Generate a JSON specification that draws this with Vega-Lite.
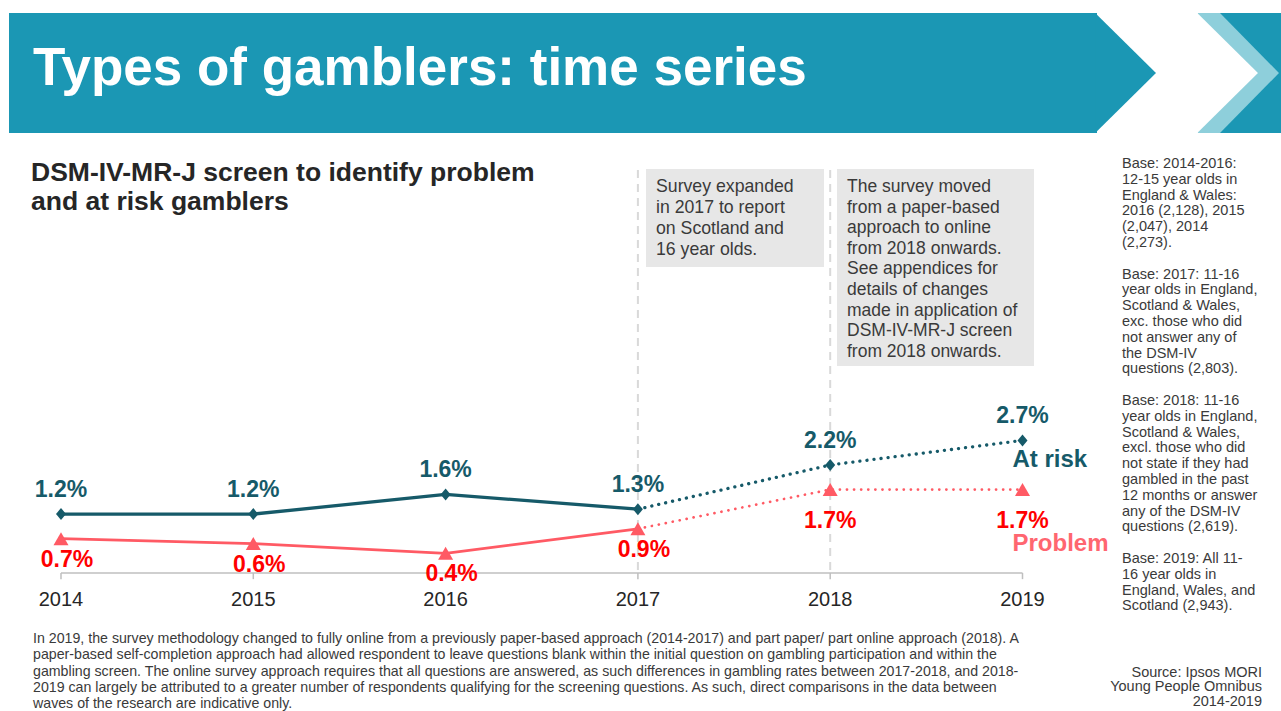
{
  "$schema": "https://vega.github.io/schema/vega-lite/v6.json",
  "width": 1281,
  "height": 711,
  "autosize": "none",
  "padding": 0,
  "background": "white",
  "config": {"font": "Liberation Sans", "view": {"stroke": null}},
  "datasets": {
    "gamblers": [
      {"year": 2014, "series": "At risk", "value": 0.012},
      {"year": 2015, "series": "At risk", "value": 0.012},
      {"year": 2016, "series": "At risk", "value": 0.016},
      {"year": 2017, "series": "At risk", "value": 0.013},
      {"year": 2018, "series": "At risk", "value": 0.022},
      {"year": 2019, "series": "At risk", "value": 0.027},
      {"year": 2014, "series": "Problem", "value": 0.007},
      {"year": 2015, "series": "Problem", "value": 0.006},
      {"year": 2016, "series": "Problem", "value": 0.004},
      {"year": 2017, "series": "Problem", "value": 0.009},
      {"year": 2018, "series": "Problem", "value": 0.017},
      {"year": 2019, "series": "Problem", "value": 0.017}
    ]
  },
  "layer": [
    {
      "data": {"values": [{}]},
      "mark": {"type": "rect", "color": "#1B97B4"},
      "encoding": {
        "x": {"datum": 2013.72959, "type": "quantitative", "scale": {"domain": [2013.68279, 2020.34425], "nice": false, "zero": false}, "axis": null},
        "x2": {"datum": 2019.38742},
        "y": {"datum": 0.114053, "type": "quantitative", "scale": {"domain": [-0.028106, 0.116701], "nice": false, "zero": false}, "axis": null},
        "y2": {"datum": 0.089613}
      }
    },
    {
      "data": {"values": [{}]},
      "mark": {"type": "point", "shape": "M-0.03,-1 L0.983,0 L-0.03,1 Z", "size": 14400, "filled": true, "color": "#1B97B4", "opacity": 1, "strokeWidth": 0},
      "encoding": {
        "x": {"datum": 2019.38742, "type": "quantitative", "axis": null},
        "y": {"datum": 0.101833, "type": "quantitative", "axis": null}
      }
    },
    {
      "data": {"values": [{}]},
      "mark": {"type": "rect", "color": "#1B97B4"},
      "encoding": {
        "x": {"datum": 2019.91784, "type": "quantitative", "axis": null},
        "x2": {"datum": 2020.4},
        "y": {"datum": 0.114053, "type": "quantitative", "axis": null},
        "y2": {"datum": 0.089613}
      }
    },
    {
      "data": {"values": [{}]},
      "mark": {"type": "point", "shape": "M-0.02,-1 L0.35,-1 L1.333,0 L0.35,1 L-0.02,1 Z", "size": 14400, "filled": true, "color": "#8ECFDB", "opacity": 1, "strokeWidth": 0},
      "encoding": {
        "x": {"datum": 2019.91784, "type": "quantitative", "axis": null},
        "y": {"datum": 0.101833, "type": "quantitative", "axis": null}
      }
    },
    {
      "data": {"values": [{}]},
      "mark": {"type": "point", "shape": "M-0.05,-1.02 L0.983,0 L-0.05,1.02 Z", "size": 14400, "filled": true, "color": "#FFFFFF", "opacity": 1, "strokeWidth": 0},
      "encoding": {
        "x": {"datum": 2019.91784, "type": "quantitative", "axis": null},
        "y": {"datum": 0.101833, "type": "quantitative", "axis": null}
      }
    },
    {
      "data": {"values": [{}]},
      "mark": {"type": "text", "text": "Types of gamblers: time series", "align": "left", "baseline": "alphabetic", "fontSize": 53, "fontWeight": "bold", "color": "#FFFFFF"},
      "encoding": {
        "x": {"datum": 2013.8544, "type": "quantitative", "axis": null},
        "y": {"datum": 0.099389, "type": "quantitative", "axis": null}
      }
    },
    {
      "data": {"values": [{}]},
      "mark": {"type": "text", "text": ["DSM-IV-MR-J screen to identify problem", "and at risk gamblers"], "align": "left", "baseline": "alphabetic", "fontSize": 26.5, "lineHeight": 28.5, "fontWeight": "bold", "color": "#262626"},
      "encoding": {
        "x": {"datum": 2013.844, "type": "quantitative", "axis": null},
        "y": {"datum": 0.079837, "type": "quantitative", "axis": null}
      }
    },
    {
      "data": {"values": [{"year": 2017}, {"year": 2018}]},
      "mark": {"type": "rule", "color": "#D9D9D9", "strokeWidth": 2, "strokeDash": [8, 6]},
      "encoding": {
        "x": {"field": "year", "type": "quantitative", "axis": null},
        "y": {"datum": 0.082077, "type": "quantitative", "axis": null},
        "y2": {"datum": 0}
      }
    },
    {
      "data": {"values": [{}]},
      "mark": {"type": "rect", "color": "#E7E7E7"},
      "encoding": {
        "x": {"datum": 2017.04212, "type": "quantitative", "axis": null},
        "x2": {"datum": 2017.96776},
        "y": {"datum": 0.082281, "type": "quantitative", "axis": null},
        "y2": {"datum": 0.062322}
      }
    },
    {
      "data": {"values": [{}]},
      "mark": {"type": "rect", "color": "#E7E7E7"},
      "encoding": {
        "x": {"datum": 2018.03536, "type": "quantitative", "axis": null},
        "x2": {"datum": 2019.05981},
        "y": {"datum": 0.082281, "type": "quantitative", "axis": null},
        "y2": {"datum": 0.042159}
      }
    },
    {
      "data": {"values": [{}]},
      "mark": {"type": "text", "text": ["Survey expanded", "in 2017 to report", "on Scotland and", "16 year olds."], "align": "left", "baseline": "alphabetic", "fontSize": 17.7, "lineHeight": 21, "color": "#3A3A3A"},
      "encoding": {
        "x": {"datum": 2017.09413, "type": "quantitative", "axis": null},
        "y": {"datum": 0.077597, "type": "quantitative", "axis": null}
      }
    },
    {
      "data": {"values": [{}]},
      "mark": {"type": "text", "text": ["The survey moved", "from a paper-based", "approach to online", "from 2018 onwards.", "See appendices for", "details of changes", "made in application of", "DSM-IV-MR-J screen", "from 2018 onwards."], "align": "left", "baseline": "alphabetic", "fontSize": 17.5, "lineHeight": 20.6, "color": "#3A3A3A"},
      "encoding": {
        "x": {"datum": 2018.08737, "type": "quantitative", "axis": null},
        "y": {"datum": 0.077597, "type": "quantitative", "axis": null}
      }
    },
    {
      "data": {"values": [{}]},
      "mark": {"type": "rule", "color": "#BFBFBF", "strokeWidth": 1.5},
      "encoding": {
        "x": {"datum": 2014, "type": "quantitative", "axis": null},
        "x2": {"datum": 2019},
        "y": {"datum": 0, "type": "quantitative", "axis": null}
      }
    },
    {
      "data": {"name": "gamblers"},
      "transform": [{"filter": "datum.series == 'At risk'"}],
      "mark": {"type": "rule", "color": "#BFBFBF", "strokeWidth": 1.5},
      "encoding": {
        "x": {"field": "year", "type": "quantitative", "axis": null},
        "y": {"datum": 0, "type": "quantitative", "axis": null},
        "y2": {"datum": -0.00125}
      }
    },
    {
      "data": {"name": "gamblers"},
      "transform": [{"filter": "datum.series == 'At risk'"}],
      "mark": {"type": "text", "align": "center", "baseline": "alphabetic", "dy": 33, "fontSize": 20, "color": "#262626"},
      "encoding": {
        "x": {"field": "year", "type": "quantitative", "axis": null},
        "y": {"datum": 0, "type": "quantitative", "axis": null},
        "text": {"field": "year", "type": "quantitative", "format": "d"}
      }
    },
    {
      "data": {"name": "gamblers"},
      "transform": [{"filter": "datum.year <= 2017"}],
      "mark": {"type": "line", "strokeCap": "round"},
      "encoding": {
        "x": {"field": "year", "type": "quantitative", "axis": null},
        "y": {"field": "value", "type": "quantitative", "axis": null},
        "color": {"field": "series", "type": "nominal", "scale": {"domain": ["At risk", "Problem"], "range": ["#165A69", "#FF5A64"]}, "legend": null},
        "strokeWidth": {"field": "series", "type": "nominal", "scale": {"domain": ["At risk", "Problem"], "range": [3.3, 2.7]}, "legend": null}
      }
    },
    {
      "data": {"name": "gamblers"},
      "transform": [{"filter": "datum.year >= 2017"}],
      "mark": {"type": "line", "strokeCap": "round", "strokeDash": [0.1, 7]},
      "encoding": {
        "x": {"field": "year", "type": "quantitative", "axis": null},
        "y": {"field": "value", "type": "quantitative", "axis": null},
        "color": {"field": "series", "type": "nominal", "legend": null},
        "strokeWidth": {"field": "series", "type": "nominal", "legend": null}
      }
    },
    {
      "data": {"name": "gamblers"},
      "transform": [{"filter": "datum.series == 'Problem'"}],
      "mark": {"type": "point", "shape": "triangle-up", "size": 225, "filled": true, "color": "#FF5A64", "opacity": 1, "strokeWidth": 0},
      "encoding": {
        "x": {"field": "year", "type": "quantitative", "axis": null},
        "y": {"field": "value", "type": "quantitative", "axis": null}
      }
    },
    {
      "data": {"name": "gamblers"},
      "transform": [{"filter": "datum.series == 'At risk'"}],
      "mark": {"type": "point", "shape": "M0,-1.2 L1,0 L0,1.2 L-1,0 Z", "size": 100, "filled": true, "color": "#165A69", "opacity": 1, "strokeWidth": 0},
      "encoding": {
        "x": {"field": "year", "type": "quantitative", "axis": null},
        "y": {"field": "value", "type": "quantitative", "axis": null}
      }
    },
    {
      "data": {"name": "gamblers"},
      "transform": [{"filter": "datum.series == 'At risk'"}],
      "mark": {"type": "text", "align": "center", "baseline": "alphabetic", "dy": -17, "fontSize": 23, "fontWeight": "bold", "color": "#165A69"},
      "encoding": {
        "x": {"field": "year", "type": "quantitative", "axis": null},
        "y": {"field": "value", "type": "quantitative", "axis": null},
        "text": {"field": "value", "type": "quantitative", "format": ".1%"}
      }
    },
    {
      "data": {"name": "gamblers"},
      "transform": [{"filter": "datum.series == 'Problem' && datum.year <= 2017"}],
      "mark": {"type": "text", "align": "center", "baseline": "alphabetic", "dx": 6, "dy": 28, "fontSize": 23, "fontWeight": "bold", "color": "#FF0000"},
      "encoding": {
        "x": {"field": "year", "type": "quantitative", "axis": null},
        "y": {"field": "value", "type": "quantitative", "axis": null},
        "text": {"field": "value", "type": "quantitative", "format": ".1%"}
      }
    },
    {
      "data": {"name": "gamblers"},
      "transform": [{"filter": "datum.series == 'Problem' && datum.year >= 2018"}],
      "mark": {"type": "text", "align": "center", "baseline": "alphabetic", "dy": 38, "fontSize": 23, "fontWeight": "bold", "color": "#FF0000"},
      "encoding": {
        "x": {"field": "year", "type": "quantitative", "axis": null},
        "y": {"field": "value", "type": "quantitative", "axis": null},
        "text": {"field": "value", "type": "quantitative", "format": ".1%"}
      }
    },
    {
      "data": {"name": "gamblers"},
      "transform": [{"filter": "datum.series == 'At risk' && datum.year == 2019"}],
      "mark": {"type": "text", "align": "left", "baseline": "alphabetic", "dx": -10, "dy": 27, "fontSize": 24, "fontWeight": "bold", "color": "#165A69"},
      "encoding": {
        "x": {"field": "year", "type": "quantitative", "axis": null},
        "y": {"field": "value", "type": "quantitative", "axis": null},
        "text": {"field": "series", "type": "nominal"}
      }
    },
    {
      "data": {"name": "gamblers"},
      "transform": [{"filter": "datum.series == 'Problem' && datum.year == 2019"}],
      "mark": {"type": "text", "align": "left", "baseline": "alphabetic", "dx": -10, "dy": 61, "fontSize": 24, "fontWeight": "bold", "color": "#FF6670"},
      "encoding": {
        "x": {"field": "year", "type": "quantitative", "axis": null},
        "y": {"field": "value", "type": "quantitative", "axis": null},
        "text": {"field": "series", "type": "nominal"}
      }
    },
    {
      "data": {"values": [{}]},
      "mark": {"type": "text", "text": ["Base: 2014-2016:", "12-15 year olds in", "England & Wales:", "2016 (2,128), 2015", "(2,047), 2014", "(2,273)."], "align": "left", "baseline": "alphabetic", "fontSize": 14.5, "lineHeight": 15.8, "color": "#3A3A3A"},
      "encoding": {
        "x": {"datum": 2019.51742, "type": "quantitative", "axis": null},
        "y": {"datum": 0.082485, "type": "quantitative", "axis": null}
      }
    },
    {
      "data": {"values": [{}]},
      "mark": {"type": "text", "text": ["Base: 2017: 11-16", "year olds in England,", "Scotland & Wales,", "exc. those who did", "not answer any of", "the DSM-IV", "questions (2,803)."], "align": "left", "baseline": "alphabetic", "fontSize": 14.5, "lineHeight": 15.8, "color": "#3A3A3A"},
      "encoding": {
        "x": {"datum": 2019.51742, "type": "quantitative", "axis": null},
        "y": {"datum": 0.059959, "type": "quantitative", "axis": null}
      }
    },
    {
      "data": {"values": [{}]},
      "mark": {"type": "text", "text": ["Base: 2018: 11-16", "year olds in England,", "Scotland & Wales,", "excl. those who did", "not state if they had", "gambled in the past", "12 months or answer", "any of the DSM-IV", "questions (2,619)."], "align": "left", "baseline": "alphabetic", "fontSize": 14.5, "lineHeight": 15.8, "color": "#3A3A3A"},
      "encoding": {
        "x": {"datum": 2019.51742, "type": "quantitative", "axis": null},
        "y": {"datum": 0.034216, "type": "quantitative", "axis": null}
      }
    },
    {
      "data": {"values": [{}]},
      "mark": {"type": "text", "text": ["Base: 2019: All 11-", "16 year olds in", "England, Wales, and", "Scotland (2,943)."], "align": "left", "baseline": "alphabetic", "fontSize": 14.5, "lineHeight": 15.8, "color": "#3A3A3A"},
      "encoding": {
        "x": {"datum": 2019.51742, "type": "quantitative", "axis": null},
        "y": {"datum": 0.002037, "type": "quantitative", "axis": null}
      }
    },
    {
      "data": {"values": [{}]},
      "mark": {"type": "text", "text": ["In 2019, the survey methodology changed to fully online from a previously paper-based approach (2014-2017) and part paper/ part online approach (2018). A", "paper-based self-completion approach had allowed respondent to leave questions blank within the initial question on gambling participation and within the", "gambling screen. The online survey approach requires that all questions are answered, as such differences in gambling rates between 2017-2018, and 2018-", "2019 can largely be attributed to a greater number of respondents qualifying for the screening questions. As such, direct comparisons in the data between", "waves of the research are indicative only."], "align": "left", "baseline": "alphabetic", "fontSize": 14.2, "lineHeight": 16.25, "color": "#3A3A3A"},
      "encoding": {
        "x": {"datum": 2013.8544, "type": "quantitative", "axis": null},
        "y": {"datum": -0.014257, "type": "quantitative", "axis": null}
      }
    },
    {
      "data": {"values": [{}]},
      "mark": {"type": "text", "text": ["Source: Ipsos MORI", "Young People Omnibus", "2014-2019"], "align": "right", "baseline": "alphabetic", "fontSize": 14.5, "lineHeight": 14.5, "color": "#3A3A3A"},
      "encoding": {
        "x": {"datum": 2020.24545, "type": "quantitative", "axis": null},
        "y": {"datum": -0.021181, "type": "quantitative", "axis": null}
      }
    }
  ]
}
